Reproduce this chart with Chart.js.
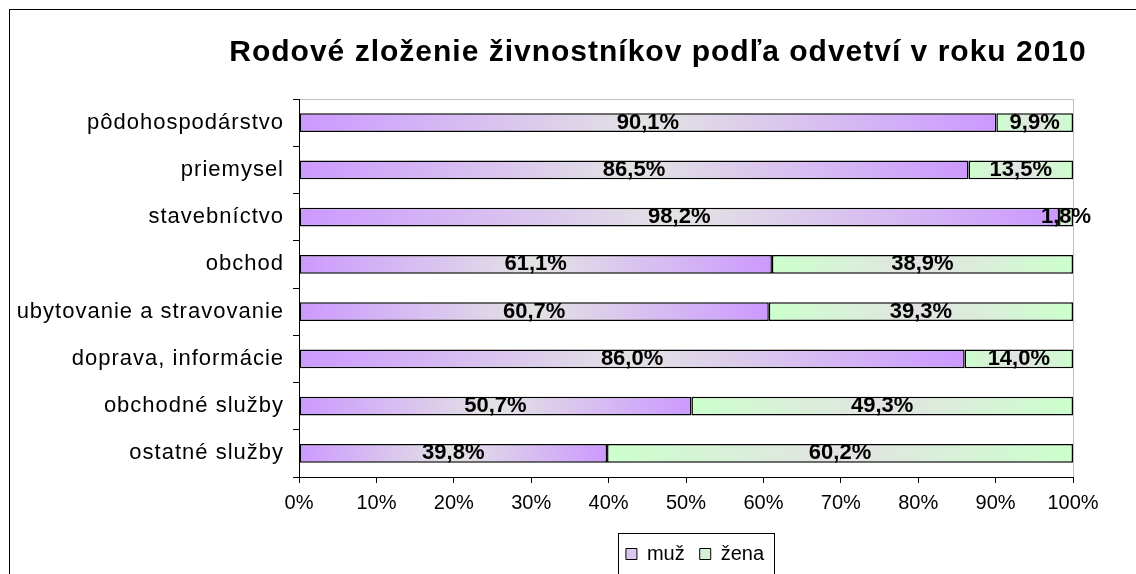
<!DOCTYPE html>
<html>
<head>
<meta charset="utf-8">
<script src="https://cdn.jsdelivr.net/npm/chart.js@4.4.1/dist/chart.umd.min.js"></script>
<style>
html, body { margin: 0; padding: 0; background: #fff; overflow: hidden; }
#ramik { position: absolute; left: 9px; top: 9px; width: 1400px; height: 800px; border: 1px solid #000; }
#obal { position: absolute; left: 0; top: 0; width: 1136px; height: 574px; }
</style>
</head>
<body>
<div id="ramik"></div>
<div id="obal"><canvas id="graf" width="1136" height="574"></canvas></div>
<script>
const nazovGrafu = 'Rodové zloženie živnostníkov podľa odvetví v roku 2010';
const kategorie = ['pôdohospodárstvo', 'priemysel', 'stavebníctvo', 'obchod',
    'ubytovanie a stravovanie', 'doprava, informácie', 'obchodné služby', 'ostatné služby'];
const muz = [90.1, 86.5, 98.2, 61.1, 60.7, 86.0, 50.7, 39.8];
const zena = [9.9, 13.5, 1.8, 38.9, 39.3, 14.0, 49.3, 60.2];
const znackyX = ['0%', '10%', '20%', '30%', '40%', '50%', '60%', '70%', '80%', '90%', '100%'];

const pismo = '"Liberation Sans", Arial, sans-serif';

// farebny prechod: farba na krajoch, seda v strede kazdeho useku
function prechod(farba) {
    return function (ctx) {
        const chart = ctx.chart;
        const x = chart.scales.x;
        if (ctx.type !== 'data' || !x || !chart.chartArea) return farba;
        const i = ctx.dataIndex;
        let od = 0;
        for (let d = 0; d < ctx.datasetIndex; d++) od += chart.data.datasets[d].data[i];
        const x0 = x.getPixelForValue(od);
        const x1 = x.getPixelForValue(od + ctx.raw);
        if (!isFinite(x0) || !isFinite(x1) || x1 - x0 < 1) return farba;
        const g = chart.ctx.createLinearGradient(x0, 0, x1, 0);
        g.addColorStop(0, farba);
        g.addColorStop(0.5, '#e3e3e3');
        g.addColorStop(1, farba);
        return g;
    };
}

const doplnky = {
    id: 'doplnky',
    afterLayout(chart) {
        // legenda je v originali trochu napravo od stredu plochy
        chart.legend.left += 9;
        chart.legend.right += 9;
    },
    beforeDraw(chart) {
        const y = chart.scales.y;
        if (y && !y._rozostup) {
            const povodna = y.drawLabels;
            y.drawLabels = function (area) {
                const c = this.ctx;
                c.save();
                c.letterSpacing = '1px';
                povodna.call(this, area);
                c.restore();
            };
            y._rozostup = true;
        }
        const a = chart.chartArea;
        const c = chart.ctx;
        c.save();
        c.strokeStyle = '#c0c0c0';
        c.lineWidth = 1;
        c.strokeRect(a.left + 0.5, a.top + 0.5, a.right - a.left, a.bottom - a.top);
        c.restore();
    },
    afterDatasetsDraw(chart) {
        const c = chart.ctx;
        c.save();
        c.font = 'bold 22px ' + pismo;
        c.fillStyle = '#000';
        c.textAlign = 'center';
        c.textBaseline = 'middle';
        chart.data.datasets.forEach((ds, d) => {
            chart.getDatasetMeta(d).data.forEach((el, i) => {
                const text = ds.data[i].toFixed(1).replace('.', ',') + '%';
                c.fillText(text, (el.x + el.base) / 2, el.y);
            });
        });
        c.restore();
    },
    afterDraw(chart) {
        const c = chart.ctx;
        c.save();
        // nadpis
        c.font = 'bold 30px ' + pismo;
        c.letterSpacing = '1px';
        c.fillStyle = '#000';
        c.textAlign = 'center';
        c.textBaseline = 'alphabetic';
        c.fillText(nazovGrafu, 658, 61);
        c.restore();
        // ramcek legendy
        const hb = chart.legend.legendHitBoxes;
        if (hb && hb.length) {
            const l = Math.min(...hb.map(h => h.left));
            const r = Math.max(...hb.map(h => h.left + h.width));
            const cy = hb[0].top + hb[0].height / 2;
            c.save();
            c.strokeStyle = '#000';
            c.lineWidth = 1;
            c.strokeRect(Math.round(l - 8) + 0.5, Math.round(cy - 21) + 0.5, Math.round(r - l + 18), 42);
            c.restore();
        }
    }
};

new Chart(document.getElementById('graf'), {
    type: 'bar',
    data: {
        labels: kategorie,
        datasets: [{
            label: 'muž',
            data: muz,
            backgroundColor: prechod('#cc99ff'),
            borderColor: '#000',
            borderWidth: 1.5,
            borderSkipped: false
        }, {
            label: 'žena',
            data: zena,
            backgroundColor: prechod('#ccffcc'),
            borderColor: '#000',
            borderWidth: 1.5,
            borderSkipped: false
        }]
    },
    options: {
        indexAxis: 'y',
        responsive: false,
        animation: false,
        datasets: { bar: { barPercentage: 0.4, categoryPercentage: 1 } },
        layout: { padding: { top: 99, left: 12, right: 63, bottom: 0 } },
        scales: {
            x: {
                stacked: true,
                min: 0,
                max: 100,
                ticks: {
                    stepSize: 10,
                    color: '#000',
                    font: { family: pismo, size: 20 },
                    padding: 8,
                    maxRotation: 0,
                    callback: (v, i) => znackyX[i]
                },
                grid: { drawOnChartArea: false, drawTicks: true, tickLength: 6, color: '#000' },
                border: { color: '#000', width: 1 },
                afterFit: (s) => { s.height = 52; }
            },
            y: {
                stacked: true,
                ticks: {
                    color: '#000',
                    font: { family: pismo, size: 22 },
                    padding: 9
                },
                grid: { drawOnChartArea: false, drawTicks: true, tickLength: 6, color: '#000' },
                border: { color: '#000', width: 1 },
                afterFit: (s) => { s.width = 287; }
            }
        },
        plugins: {
            tooltip: { enabled: false },
            legend: {
                position: 'bottom',
                fullSize: false,
                labels: {
                    color: '#000',
                    font: { family: pismo, size: 20 },
                    boxWidth: 11,
                    boxHeight: 11,
                    padding: 15,
                    generateLabels: (chart) => {
                        const farby = ['#dcc6f2', '#d6f2d6'];
                        return Chart.defaults.plugins.legend.labels.generateLabels(chart).map((it, i) => {
                            it.fillStyle = farby[i];
                            it.strokeStyle = '#000';
                            it.lineWidth = 1;
                            return it;
                        });
                    }
                }
            }
        }
    },
    plugins: [doplnky]
});
</script>
</body>
</html>
